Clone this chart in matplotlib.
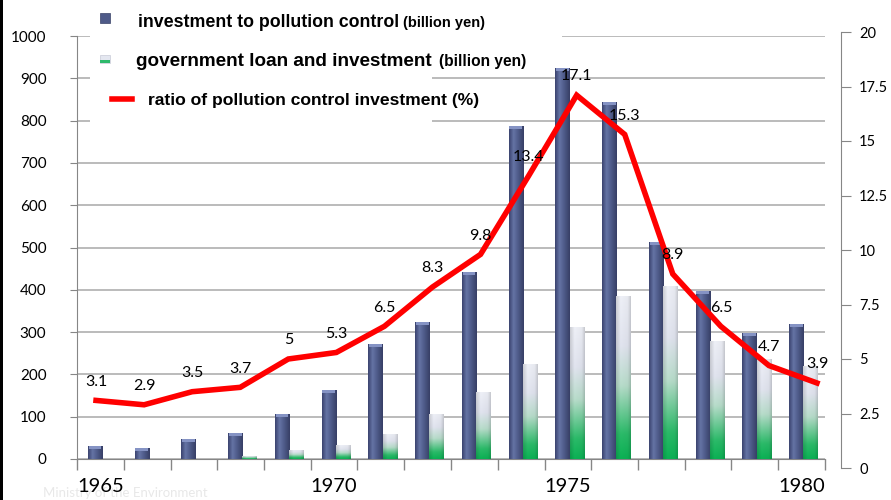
import numpy as np
import matplotlib
matplotlib.use("Agg")
import matplotlib.pyplot as plt
from matplotlib.patches import Rectangle
from matplotlib.lines import Line2D
from matplotlib.colors import to_rgb

# --------------------------------------------
# Data
# --------------------------------------------
years = list(range(1965, 1981))
pollution_invest = [30, 25, 48, 62, 107, 163, 272, 324, 441, 787, 925, 845, 513, 398, 297, 318]
gov_loan = [0, 0, 0, 8, 22, 32, 60, 107, 158, 224, 311, 385, 410, 279, 236, 220]
ratio = [3.1, 2.9, 3.5, 3.7, 5.0, 5.3, 6.5, 8.3, 9.8, 13.4, 17.1, 15.3, 8.9, 6.5, 4.7, 3.9]
year_ticks = [1965, 1970, 1975, 1980]

W, H = 891, 500
GREY = "#868686"
LABEL_FONT = ["Lato", "DejaVu Sans"]
LEGEND_FONT = ["Liberation Sans", "DejaVu Sans"]


def fx(px):
    return px / W


def fy(py):
    return 1 - py / H


def ramp(stops, cols, n):
    t = np.linspace(0, 1, n)
    rgb = np.array([to_rgb(c) for c in cols])
    return np.stack([np.interp(t, stops, rgb[:, k]) for k in range(3)], axis=-1)


def fill_bars(ax, bars, img, z):
    for b in bars:
        x, y, w, h = b.get_x(), b.get_y(), b.get_width(), b.get_height()
        if h <= 0:
            continue
        im = ax.imshow(img, extent=[x, x + w, y, y + h], origin="lower",
                       aspect="auto", interpolation="bilinear", zorder=z)
        im.set_clip_path(b)


fig = plt.figure(figsize=(W / 100, H / 100), dpi=100)

# primary axes (bars) and secondary axes (ratio line) do not share the same box
ax = fig.add_axes([fx(77), fy(459), fx(825) - fx(77), fy(36) - fy(459)])
ax2 = fig.add_axes([fx(72), fy(468), fx(841) - fx(72), fy(32) - fy(468)])
ax2.patch.set_alpha(0)

x = np.arange(len(years))
bw = 0.30

# blue bars: horizontal shading
blue_img = ramp([0, 0.3, 0.65, 1], ["#3b4470", "#6574a5", "#4c5886", "#373f66"], 32)[None, :, :]
b1 = ax.bar(x - 0.115, pollution_invest, bw, facecolor="none", edgecolor="none", zorder=3)
fill_bars(ax, b1, blue_img, 3)
cap = 7
ax.bar(x - 0.115, [cap] * len(years), bw * 0.9, bottom=[v - cap for v in pollution_invest],
       color="#8593c4", zorder=4)

# green/white bars: vertical fade with darker edges
vert = ramp([0, 0.15, 0.45, 0.7, 1],
            ["#0cb255", "#2bbb69", "#b8ddcb", "#e1e4ef", "#eef0f7"], 64)
horiz = np.interp(np.linspace(0, 1, 24), [0, 0.3, 0.8, 1], [0.86, 1.0, 0.97, 0.84])
green_img = np.clip(vert[:, None, :] * horiz[None, :, None], 0, 1)
b2 = ax.bar(x + 0.185, gov_loan, bw, facecolor="none", edgecolor="none", zorder=3)
fill_bars(ax, b2, green_img, 3)

ax.set_xlim(-0.5, len(years) - 0.5)
ax.set_ylim(0, 1000)
ax.set_yticks(range(0, 1001, 100))
ax.set_xticks([years.index(y) for y in year_ticks])
ax.set_xticklabels([str(y) for y in year_ticks])
ax.set_xticks(np.arange(-0.5, len(years), 1), minor=True)
ax.tick_params(axis="x", which="major", length=0, pad=14, labelsize=14.5)
ax.tick_params(axis="x", which="minor", length=8, color=GREY, width=1)
ax.tick_params(axis="y", length=5, color=GREY, pad=17, labelsize=11)
for lab in ax.get_xticklabels() + ax.get_yticklabels():
    lab.set_family(LABEL_FONT)
ax.yaxis.grid(True, color="#a8a8a8", lw=1.1)
ax.set_axisbelow(True)
for s in ["top", "right"]:
    ax.spines[s].set_visible(False)
for s in ["left", "bottom"]:
    ax.spines[s].set_color(GREY)

# ratio line on the secondary axis
ax2.plot(x, ratio, color="#ff0000", lw=4, solid_joinstyle="miter", zorder=5)
for xi, v in zip(x, ratio):
    ax2.annotate(f"{v:g}", (xi, v), xytext=(0, 13.5), textcoords="offset points",
                 ha="center", va="center", fontsize=11.5, family=LABEL_FONT, zorder=6)
ax2.set_xlim(-0.5, len(years) - 0.5)
ax2.set_ylim(0, 20)
ax2.set_yticks(np.arange(0, 20.1, 2.5))
ax2.set_yticklabels([f"{v:g}" for v in np.arange(0, 20.1, 2.5)])
ax2.yaxis.tick_right()
ax2.tick_params(axis="y", length=7, color=GREY, pad=6, labelsize=10.5)
for lab in ax2.get_yticklabels():
    lab.set_family(LABEL_FONT)
ax2.set_xticks([])
for s in ["top", "left", "bottom"]:
    ax2.spines[s].set_visible(False)
ax2.spines["right"].set_color(GREY)

# --------------------------------------------
# Legend drawn by hand on a white block
# --------------------------------------------
for (x0, y0, x1, y1) in [(90, 0, 562, 45), (90, 45, 432, 130)]:
    fig.add_artist(Rectangle((fx(x0), fy(y1)), fx(x1) - fx(x0), fy(y0) - fy(y1),
                             transform=fig.transFigure, facecolor="white",
                             edgecolor="none", zorder=1))

fig.add_artist(Rectangle((fx(100), fy(23)), fx(10), 10 / H, transform=fig.transFigure,
                         facecolor="#4e5a88", edgecolor="#3a4268", lw=0.5, zorder=2))
fig.add_artist(Rectangle((fx(100), fy(63)), fx(10), 8 / H, transform=fig.transFigure,
                         facecolor="#e4e7f0", edgecolor="#c8cbd6", lw=0.5, zorder=2))
fig.add_artist(Rectangle((fx(100), fy(63)), fx(10), 3 / H, transform=fig.transFigure,
                         facecolor="#2fb96b", edgecolor="none", zorder=2))
fig.add_artist(Line2D([fx(112), fx(132)], [fy(99), fy(99)], transform=fig.transFigure,
                      color="#ff0000", lw=4, zorder=2))

# (x, baseline, text, size, x of small part, small text, small size)
legend_rows = [
    (138, 27, "investment to pollution control", 12.8, 403, "(billion yen)", 10.5),
    (136, 66, "government loan and investment", 13.6, 439, "(billion yen)", 11.2),
    (148, 105, "ratio of pollution control investment (%)", 12.6, None, None, None),
]
for tx, base, main, size, sx, small, ssize in legend_rows:
    fig.text(fx(tx), fy(base), main, fontsize=size, weight="bold", family=LEGEND_FONT,
             va="baseline", ha="left", zorder=3)
    if small:
        fig.text(fx(sx), fy(base), small, fontsize=ssize, weight="bold", family=LEGEND_FONT,
                 va="baseline", ha="left", zorder=3)

# faint source watermark and dark left edge
fig.text(fx(43), fy(493), "Ministry of the Environment", fontsize=9.5, color="#e8e8e8",
         family=LABEL_FONT, va="center", ha="left", zorder=-1)
fig.add_artist(Rectangle((0, 0), fx(3), 1, transform=fig.transFigure,
                         facecolor="black", edgecolor="none", zorder=4))

fig.savefig("out.png", dpi=100)
